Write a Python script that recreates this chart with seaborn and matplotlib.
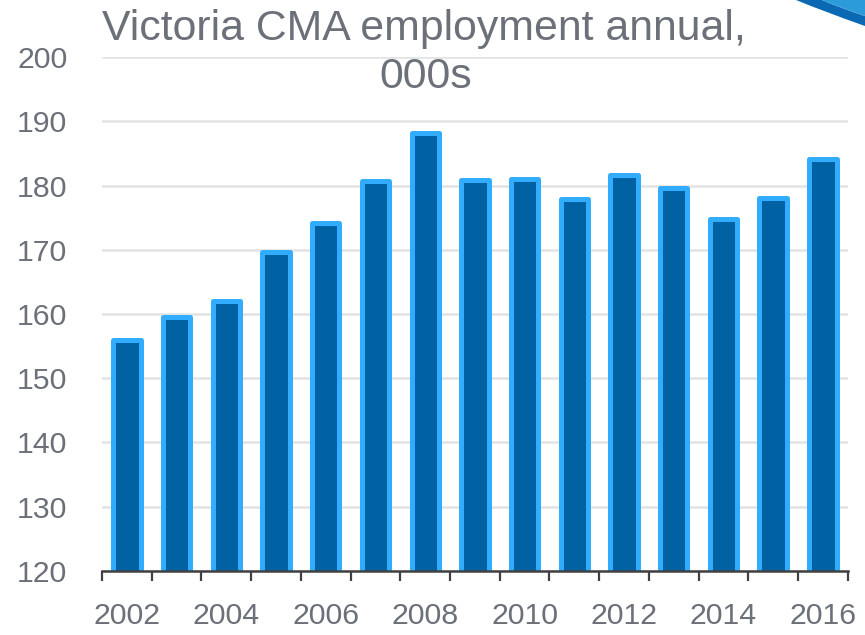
import matplotlib
matplotlib.use("Agg")
import matplotlib.pyplot as plt
from matplotlib.path import Path
from matplotlib.patches import PathPatch
import numpy as np
import pandas as pd
import seaborn as sns

# Annual employment, Victoria CMA (thousands)
years = [2002, 2003, 2004, 2005, 2006, 2007, 2008, 2009,
         2010, 2011, 2012, 2013, 2014, 2015, 2016]
employment = [156.0, 159.5, 162.0, 169.7, 174.2, 180.7, 188.1, 180.8,
              181.0, 177.9, 181.6, 179.6, 174.8, 178.0, 184.2]
y_ticks = [120, 130, 140, 150, 160, 170, 180, 190, 200]
x_tick_labels = ["2002", "2004", "2006", "2008", "2010", "2012", "2014", "2016"]
title_lines = ["Victoria CMA employment annual,", "000s"]

bar_fill = "#0061A3"
bar_edge = "#31ACFF"
text_gray = "#6B7079"

df = pd.DataFrame({"year": [str(y) for y in years], "employment": employment})

sns.set_theme(style="white")
plt.rcParams["font.family"] = ["Liberation Sans Narrow", "Liberation Sans", "DejaVu Sans"]

fig = plt.figure(figsize=(8.65, 6.35), dpi=100)
ax = fig.add_axes([0.118, 0.1008, 0.862, 0.8094])

sns.barplot(data=df, x="year", y="employment", color=bar_fill,
            edgecolor=bar_edge, linewidth=3.6, width=0.55,
            saturation=1, ax=ax)
for p in ax.patches:
    p.set_joinstyle("round")

ax.set_ylim(120, 200)
ax.set_xlim(-0.5, len(years) - 0.5)
ax.set_yticks(y_ticks)
ax.set_yticklabels([str(v) for v in y_ticks])

# labels on every other year, tick marks between the bars
ax.set_xticks(np.arange(0, len(years), 2))
ax.set_xticklabels(x_tick_labels)
ax.set_xticks(np.arange(-0.5, len(years), 1.0), minor=True)
ax.tick_params(axis="x", which="major", length=0, pad=22,
               labelsize=21.8, labelcolor=text_gray)
ax.tick_params(axis="x", which="minor", length=7.5, width=1.6,
               color="#404040", direction="out", bottom=True)
ax.tick_params(axis="y", length=0, pad=25, labelsize=21.8,
               labelcolor=text_gray)
ax.set_xlabel("")
ax.set_ylabel("")

ax.yaxis.grid(True, color="#E3E3E3", linewidth=1.8)
ax.set_axisbelow(True)
for side in ("left", "top", "right"):
    ax.spines[side].set_visible(False)
ax.spines["bottom"].set_color("#404040")
ax.spines["bottom"].set_linewidth(1.8)

# two-line title, placed by baseline
W, H = 865.0, 635.0
fig.text(424 / W, 1 - 40 / H, title_lines[0], ha="center", va="baseline",
         fontsize=30.8, color=text_gray)
fig.text(426 / W, 1 - 88 / H, title_lines[1], ha="center", va="baseline",
         fontsize=30.8, color=text_gray)

# decorative swoosh in the top-right corner (pixel coordinates)
def fpt(x, y):
    return (x / W, 1 - y / H)

dark_band = Path([fpt(796, 0), fpt(825, 12), fpt(865, 26), fpt(865, 16),
                  fpt(840, 8), fpt(822, 0), fpt(796, 0)],
                 [Path.MOVETO, Path.CURVE3, Path.CURVE3, Path.LINETO,
                  Path.CURVE3, Path.CURVE3, Path.CLOSEPOLY])
light_band = Path([fpt(822, 0), fpt(840, 8), fpt(865, 16), fpt(865, 0),
                   fpt(822, 0)],
                  [Path.MOVETO, Path.CURVE3, Path.CURVE3, Path.LINETO,
                   Path.CLOSEPOLY])
fig.patches.append(PathPatch(dark_band, transform=fig.transFigure,
                             facecolor="#0B68B3", edgecolor="none"))
fig.patches.append(PathPatch(light_band, transform=fig.transFigure,
                             facecolor="#2B9BDA", edgecolor="none"))

fig.savefig("out.png", dpi=100)
